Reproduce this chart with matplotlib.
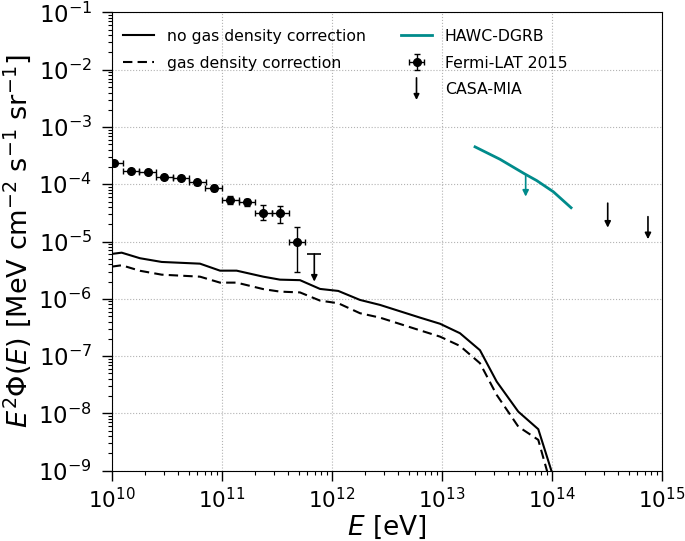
#!/usr/bin/env python3

import numpy as np
import matplotlib
matplotlib.use("Agg")
import matplotlib.pyplot as plt
from matplotlib.ticker import LogLocator, NullFormatter
from matplotlib.lines import Line2D
from matplotlib.patches import FancyArrowPatch
from matplotlib.legend_handler import HandlerBase

# model curves (log10 E [eV], log10 E^2 Phi)
logE_model = [10.0, 10.091, 10.257, 10.455, 10.803, 10.985, 11.136, 11.378, 11.53,
              11.712, 11.894, 12.06, 12.257, 12.439, 12.803, 12.985, 13.166, 13.348,
              13.5, 13.696, 13.878, 14.03]
logF_nocorr = [-5.216, -5.194, -5.291, -5.356, -5.386, -5.508, -5.508, -5.613, -5.665,
               -5.674, -5.827, -5.862, -6.019, -6.106, -6.328, -6.435, -6.600, -6.897,
               -7.445, -7.969, -8.276, -9.2]
logF_corr = [-5.438, -5.414, -5.51, -5.578, -5.613, -5.717, -5.717, -5.83, -5.874,
             -5.888, -6.031, -6.077, -6.251, -6.328, -6.55, -6.66, -6.822, -7.124,
             -7.677, -8.230, -8.462, -9.5]

# Fermi-LAT 2015
fermi_E = [1.06e10, 1.50e10, 2.12e10, 3.01e10, 4.27e10, 6.03e10, 8.45e10,
           1.20e11, 1.70e11, 2.40e11, 3.41e11, 4.84e11]
fermi_F = [2.32e-4, 1.73e-4, 1.62e-4, 1.34e-4, 1.27e-4, 1.08e-4, 8.7e-5,
           5.3e-5, 4.85e-5, 3.2e-5, 3.1e-5, 1.0e-5]
fermi_Flo = [1.5e-5, 1.2e-5, 1.1e-5, 1.0e-5, 1.0e-5, 1.0e-5, 1.0e-5,
             8e-6, 6.5e-6, 8e-6, 9.5e-6, 7e-6]
fermi_Fhi = [1.6e-5, 1.2e-5, 1.2e-5, 1.1e-5, 1.1e-5, 1.1e-5, 1.1e-5,
             9.5e-6, 7.5e-6, 1.07e-5, 1.08e-5, 7.8e-6]
fermi_dlogE = 0.075
# upper limit: top value and arrow tip
fermi_ul_E = [6.95e11]
fermi_ul_F = [6.06e-6]
fermi_ul_tip = [2.0e-6]
fermi_ul_dlogE = 0.064

# HAWC-DGRB
hawc_E = [2.01e13, 3.39e13, 5.71e13, 7.31e13, 1.035e14, 1.50e14]
hawc_F = [4.5e-4, 2.73e-4, 1.51e-4, 1.16e-4, 7.4e-5, 3.9e-5]
hawc_ul_E = [5.8e13]
hawc_ul_F = [1.41e-4]
hawc_ul_tip = [6.1e-5]

# CASA-MIA
casa_E = [3.23e14, 7.5e14]
casa_F = [4.68e-5, 2.72e-5]
casa_tip = [1.75e-5, 1.1e-5]


class ArrowHandler(HandlerBase):
    def create_artists(self, legend, orig_handle, xdescent, ydescent,
                       width, height, fontsize, trans):
        xc = -xdescent + width / 2
        a = FancyArrowPatch((xc, -ydescent + height + 4), (xc, -ydescent - 4),
                            arrowstyle="-|>", mutation_scale=8, color="black",
                            lw=1.2, shrinkA=0, shrinkB=0, transform=trans)
        return [a]


def arrows(ax, xs, tops, tips, color):
    for x, top, tip in zip(xs, tops, tips):
        ax.annotate("", xy=(x, tip), xytext=(x, top),
                    arrowprops=dict(arrowstyle="-|>", color=color, lw=1.2,
                                    mutation_scale=9, shrinkA=0, shrinkB=0))


fig = plt.figure(figsize=(6.85, 5.41), dpi=100)
ax = fig.add_axes([0.163, 0.130, 0.803, 0.847])

l1, = ax.plot(10**np.array(logE_model), 10**np.array(logF_nocorr), "k-", lw=1.5)
l2, = ax.plot(10**np.array(logE_model), 10**np.array(logF_corr), color="k",
              ls=(0, (4.5, 2.5)), lw=1.5)

fe = np.array(fermi_E)
xerr = [fe*(1-10**-fermi_dlogE), fe*(10**fermi_dlogE-1)]
h_fermi = ax.errorbar(fe, fermi_F, yerr=[fermi_Flo, fermi_Fhi], xerr=xerr,
                      fmt="o", color="black", ms=5.5, capsize=2, elinewidth=1)
ue = np.array(fermi_ul_E)
ax.errorbar(ue, fermi_ul_F,
            xerr=[ue*(1-10**-fermi_ul_dlogE), ue*(10**fermi_ul_dlogE-1)],
            fmt="none", ecolor="black", capsize=0, elinewidth=1.2)
arrows(ax, fermi_ul_E, fermi_ul_F, fermi_ul_tip, "black")

h_hawc, = ax.plot(hawc_E, hawc_F, color="darkcyan", lw=2)
arrows(ax, hawc_ul_E, hawc_ul_F, hawc_ul_tip, "darkcyan")

arrows(ax, casa_E, casa_F, casa_tip, "black")
h_casa = Line2D([], [], color="black")

ax.set_xscale("log")
ax.set_yscale("log")
ax.set_xlim(1e10, 1e15)
ax.set_ylim(1e-9, 1e-1)
ax.yaxis.set_major_locator(LogLocator(base=10, numticks=20))
ax.yaxis.set_minor_locator(LogLocator(base=10, subs=np.arange(2, 10), numticks=200))
ax.yaxis.set_minor_formatter(NullFormatter())
ax.xaxis.set_minor_locator(LogLocator(base=10, subs=np.arange(2, 10), numticks=200))
ax.xaxis.set_minor_formatter(NullFormatter())
ax.grid(True, which="major", ls=":", color="0.7", lw=0.8)
ax.tick_params(which="major", length=7, width=1.0)
ax.tick_params(which="minor", length=3, width=0.8)
ax.tick_params(axis="x", which="major", labelsize=15.5, pad=5)
ax.tick_params(axis="y", which="major", labelsize=16.5, pad=7)
ax.set_xlabel(r"$E$ [eV]", fontsize=19, labelpad=1)
ax.set_ylabel(r"$E^2\Phi(E)$ [MeV cm$^{-2}$ s$^{-1}$ sr$^{-1}$]", fontsize=19.5)

leg1 = ax.legend([l1, l2], ["no gas density correction", "gas density correction"],
                 loc="upper left", frameon=False, fontsize=11.3, labelspacing=0.75,
                 bbox_to_anchor=(-0.005, 0.995))
ax.add_artist(leg1)
ax.legend([h_hawc, h_fermi, h_casa], ["HAWC-DGRB", "Fermi-LAT 2015", "CASA-MIA"],
          loc="upper left", frameon=False, fontsize=11.3, labelspacing=0.75,
          bbox_to_anchor=(0.5, 0.995), handler_map={h_casa: ArrowHandler()})

fig.savefig("out.png", dpi=100)
